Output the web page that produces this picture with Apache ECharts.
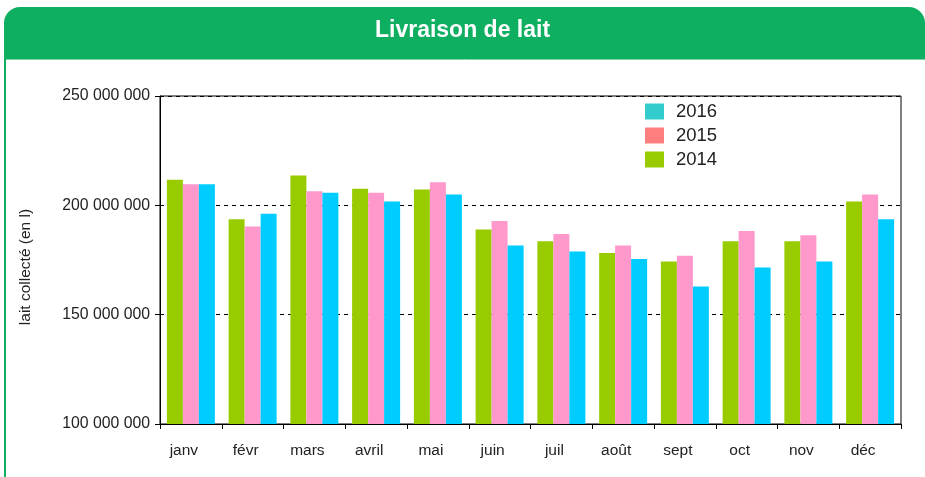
<!DOCTYPE html>
<html>
<head>
<meta charset="utf-8">
<script src="https://cdn.jsdelivr.net/npm/echarts@6/dist/echarts.min.js"></script>
<style>
html,body{margin:0;padding:0;background:#fff;}
#c{width:925px;height:477px;}
</style>
</head>
<body>
<div id="c"></div>
<script>
var months = ['janv','févr','mars','avril','mai','juin','juil','août','sept','oct','nov','déc'];
var s2014 = [211.7,193.6,213.7,207.6,207.2,188.9,183.6,178.2,174.3,183.6,183.6,201.7];
var s2015 = [209.6,190.3,206.4,205.8,210.5,192.8,186.9,181.6,177.0,188.3,186.3,205.0];
var s2016 = [209.6,196.2,205.8,201.8,205.0,181.6,178.9,175.5,162.9,171.6,174.3,193.6];
var yTicks = [100000000,150000000,200000000,250000000];
var seriesNames = ['2014','2015','2016'];
var barColors = ['#99CC00','#FF99CC','#00CCFF'];
var legendOrder = ['2016','2015','2014'];
var legendColors = {'2016':'#33CCCC','2015':'#FF7F7F','2014':'#99CC00'};

function toLitres(arr){ return arr.map(function(v){ return Math.round(v*1000000); }); }
function fmt(v){ return String(v).replace(/\B(?=(\d{3})+(?!\d))/g,' '); }

var chart = echarts.init(document.getElementById('c'), null, {renderer:'canvas'});
var dataSets = [s2014,s2015,s2016];
var option = {
  animation:false,
  backgroundColor:'#fff',
  textStyle:{fontFamily:'Liberation Sans, Arial, sans-serif'},
  graphic:[
    {type:'rect', shape:{x:4,y:7,width:921,height:52,r:[16,16,0,0]}, style:{fill:'#0FAF62'}, z:0},
    {type:'line', shape:{x1:4,y1:59.5,x2:925,y2:59.5}, style:{stroke:'#7FD7A9',lineWidth:1}},
    {type:'rect', shape:{x:4,y:50,width:2,height:427}, style:{fill:'#0FAF62'}},
    {type:'text', left:'center', top:19, style:{text:'Livraison de lait', fill:'#fff', font:'bold 23px "Liberation Sans", Arial, sans-serif'}}
  ],
  legend:{
    orient:'vertical', left:645, top:102, itemWidth:19, itemHeight:16, itemGap:5, padding:0,
    icon:'rect',
    textStyle:{fontSize:18.5, color:'#222', padding:[0,0,0,7]},
    data: legendOrder.map(function(n){ return {name:n, itemStyle:{color:legendColors[n]}}; })
  },
  grid:{left:160, right:24, top:96, bottom:53, show:true, borderColor:'#000', borderWidth:1, backgroundColor:'transparent'},
  xAxis:{
    type:'category', data:months,
    axisLine:{lineStyle:{color:'#000'}},
    axisTick:{show:true, alignWithLabel:false, length:5, lineStyle:{color:'#000'}},
    axisLabel:{color:'#222', fontSize:15.5, margin:19, padding:[0,14,0,0]}
  },
  yAxis:{
    type:'value', min:yTicks[0], max:yTicks[yTicks.length-1], interval:50000000,
    name:'lait collecté (en l)', nameLocation:'middle', nameGap:126, nameRotate:90,
    nameTextStyle:{color:'#222', fontSize:15.5, padding:[0,14,0,0]},
    axisLine:{show:true, lineStyle:{color:'#000'}},
    axisTick:{show:true, length:5, lineStyle:{color:'#000'}},
    axisLabel:{color:'#222', fontSize:15.8, margin:10, formatter:fmt},
    splitLine:{show:true, lineStyle:{color:'#000', type:[4,4], width:1}}
  },
  series: seriesNames.map(function(n,i){
    return {name:n, type:'bar', data:toLitres(dataSets[i]), barWidth:16, barGap:'0%',
      itemStyle:{color:barColors[i]}};
  })
};
chart.setOption(option);
</script>
</body>
</html>
